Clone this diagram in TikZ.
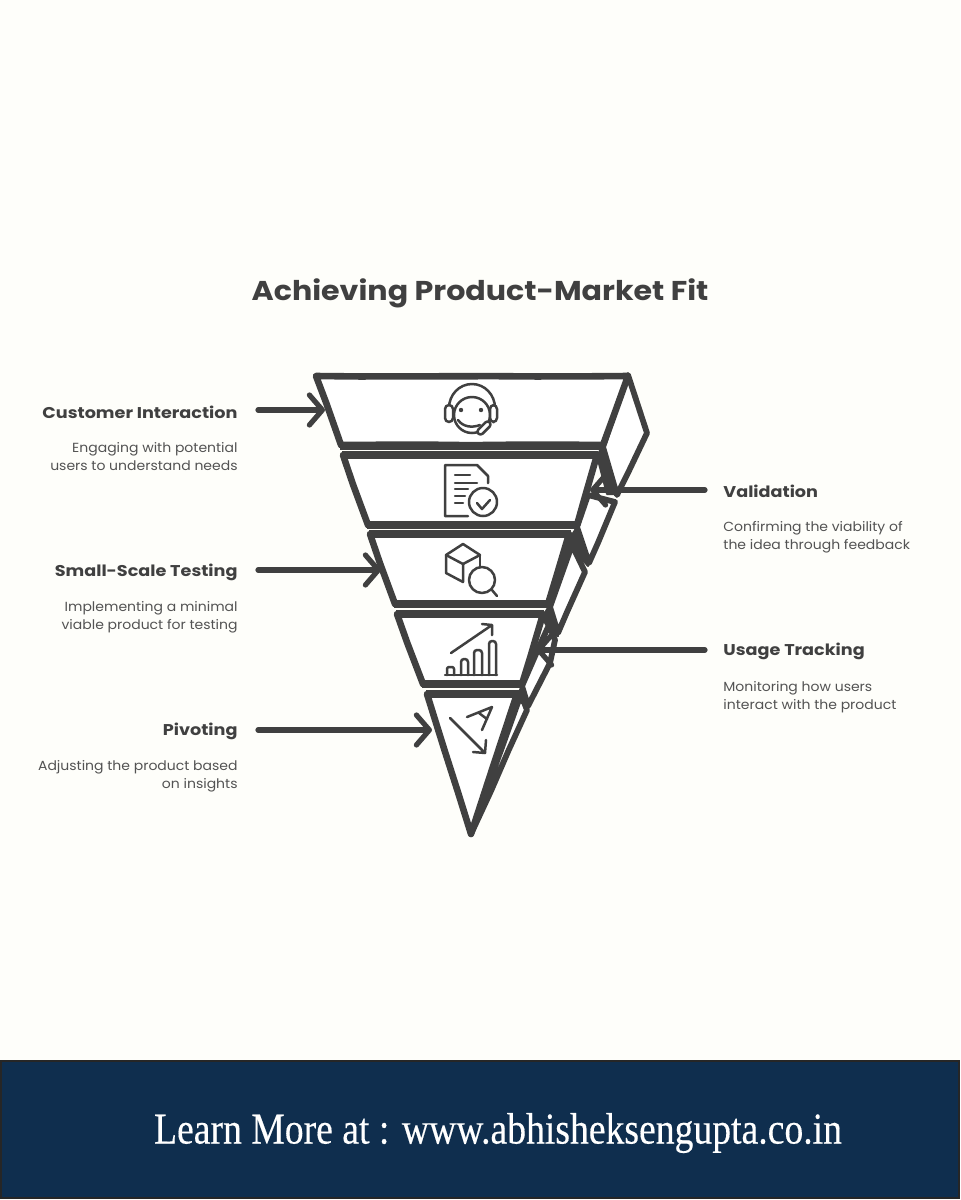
\documentclass[tikz,border=0pt]{standalone}
\usepackage{fontspec}
\usepackage{xcolor}
\usetikzlibrary{arrows.meta,decorations.pathmorphing}
\setmainfont{Poppins}
\newfontfamily\bannerfont[FakeBold=0.35]{Liberation Serif}
\definecolor{paper}{HTML}{FEFEFA}
\definecolor{ink}{HTML}{404040}
\definecolor{navy}{HTML}{0F2E4E}
\tikzset{
  band/.style={draw=ink, fill=white, line width=3.3pt, line join=round,
    decorate, decoration={random steps, segment length=22pt, amplitude=.25pt}},
  sideface/.style={band, line width=2.9pt},
  wedge/.style={fill=ink, draw=ink, line width=1pt, line join=round},
  divider/.style={draw=ink, line width=4pt},
  icon/.style={draw=ink, line width=1.25pt, line cap=round, line join=round},
  pointer/.style={draw=ink, line width=2.6pt, line cap=round,
    -{Straight Barb[length=6.5pt, width=15pt, line width=2.6pt, round]}},
  headline/.style={font=\bfseries\fontsize{7.8}{9}\selectfont, text=ink, inner sep=0pt, xscale=1.13},
  blurb/.style={font=\fontsize{6.6}{9}\selectfont, text=ink!90, inner sep=0pt, xscale=1.06}
}
\begin{document}
\begin{tikzpicture}[x=0.5pt, y=-0.5pt]
    \useasboundingbox (0,0) rectangle (960,1200);
    \fill[paper] (0,0) rectangle (960,1200);

    % Banner
    \draw[fill=navy, draw=black!85, line width=1pt] (1,1061) rectangle (959,1198);
    \node[text=white, inner sep=0pt, xscale=0.856] (banner) at (498,1133)
        {\bannerfont\fontsize{22}{24}\selectfont Learn More at : www.abhisheksengupta.co.in};

    % Title
    \node[font=\bfseries\fontsize{13.6}{18}\selectfont, text=ink, inner sep=0pt, xscale=1.107] (heading) at (480,293)
        {Achieving Product-Market Fit};

    % Side faces
    \draw[sideface] (628,375) -- (647,433) -- (617,495) -- (603,447) -- cycle;
    \draw[sideface] (588,495) -- (615,502) -- (589,563) -- (577,527) -- cycle;
    \draw[sideface] (572,545) -- (585,572) -- (558,633) -- (550,607) -- cycle;
    \draw[sideface] (549,625) -- (555,640) -- (550,663) -- (528,706) -- (522,686) -- cycle;
    \draw[sideface] (521,694) -- (527,710) -- (471,834) -- cycle;

    % Funnel bands
    \draw[band] (316,376) -- (628,376) -- (603,445) -- (341,445) -- cycle;
    \draw[band] (343,455) -- (597,455) -- (577,525) -- (368,525) -- cycle;
    \draw[band] (370,534) -- (569,534) -- (548,604) -- (395,604) -- cycle;
    \draw[band] (397,614) -- (543,614) -- (522,684) -- (423,684) -- cycle;
    \draw[band] (427,694) -- (517,694) -- (471,834) -- cycle;

    % Dividers
    \foreach \ya/\xa/\xb in {445.5/340/605, 455/342/598, 525/367/579, 534/369/571,
                             604/394/550, 614/396/544, 684/422/524, 694/426/519} {
        \draw[divider] (\xa,\ya) -- (\xb,\ya);
    }

    % Dark joints
    \fill[wedge] (603,445) -- (618,494) -- (607,494) -- (597,456) -- cycle;
    \fill[wedge] (577,527) -- (588,566) -- (581,558) -- (570,538) -- cycle;
    \fill[wedge] (549,606) -- (558,636) -- (552,634) -- (542,618) -- cycle;
    \fill[wedge] (522,686) -- (528,706) -- (520,702) -- (517,696) -- cycle;
    \draw[ink, line width=3pt] (570,538) -- (550,603);

    % Free ends on the funnel
    \coordinate (custtip) at (325,410);
    \coordinate (testtip) at (381,570);
    \coordinate (pivottip) at (432,730);
    \coordinate (validtip) at (590,490);
    \coordinate (tracktip) at (536,650);

    % Left labels
    \node[headline, anchor=east] (custhead) at (238,412) {Customer Interaction};
    \node[blurb, anchor=north east, align=right] (custtext) at (238,442)
        {Engaging with potential\\users to understand needs};
    \node[headline, anchor=east] (testhead) at (238,572) {Small-Scale Testing};
    \node[blurb, anchor=north east, align=right] (testtext) at (238,601)
        {Implementing a minimal\\viable product for testing};
    \node[headline, anchor=east] (pivothead) at (238,731) {Pivoting};
    \node[blurb, anchor=north east, align=right] (pivottext) at (238,760)
        {Adjusting the product based\\on insights};

    % Right labels
    \node[headline, anchor=west] (validhead) at (723,491) {Validation};
    \node[blurb, anchor=north west, align=left] (validtext) at (723,521)
        {Confirming the viability of\\the idea through feedback};
    \node[headline, anchor=west] (trackhead) at (723,651) {Usage Tracking};
    \node[blurb, anchor=north west, align=left] (tracktext) at (723,681)
        {Monitoring how users\\interact with the product};

    % Connectors
    \draw[pointer] ([xshift=10pt,yshift=1pt]custhead.east) -- (custtip);
    \draw[pointer] ([xshift=10pt,yshift=1pt]testhead.east) -- (testtip);
    \draw[pointer] ([xshift=10pt,yshift=.5pt]pivothead.east) -- (pivottip);
    \draw[pointer] ([xshift=-9pt,yshift=.5pt]validhead.west) -- (validtip);
    \draw[pointer] ([xshift=-9pt,yshift=.5pt]trackhead.west) -- (tracktip);

    % Headset icon
    \draw[icon] (449,408) arc (180:360:23 and 24);
    \draw[icon] (472,415) circle (18);
    \draw[icon, fill=white, rounded corners=2pt] (445,405) rectangle (453,422);
    \draw[icon, fill=white, rounded corners=2pt] (490,405) rectangle (497,422);
    \fill[ink] (461,410) circle (2.2) (481,410) circle (2.2);
    \draw[icon] (458,420) .. controls (463,427) and (472,428) .. (480,425);
    \draw[icon, fill=white, rounded corners=1.5pt, rotate around={45:(484,428)}] (476,425) rectangle (492,431);

    % Document icon
    \draw[icon] (488,483) -- (488,476) -- (477,465) -- (445,465) -- (445,516) -- (468,516);
    \draw[icon] (455,475) -- (470,475) (455,483) -- (477,483) (455,489) -- (468,489)
        (455,496) -- (465,496) (455,503) -- (463,503);
    \draw[icon, fill=white] (483,502) circle (14);
    \draw[icon] (477,503) -- (482,509) -- (490,500);

    % Cube and magnifier icon
    \draw[icon] (463,544) -- (480,555) -- (463,564) -- (446,555) -- cycle;
    \draw[icon] (446,555) -- (446,573) -- (463,582) -- (463,564);
    \draw[icon] (480,555) -- (480,567);
    \draw[icon, fill=white] (482,580) circle (13);
    \draw[icon] (492,590) -- (497,596);

    % Bar chart icon
    \draw[icon] (445,675) -- (497,675);
    \draw[icon, rounded corners=1pt] (447,675) -- (447,667) -- (454,667) -- (454,675);
    \draw[icon, rounded corners=1.5pt] (461,675) -- (461,659) -- (468,659) -- (468,675);
    \draw[icon, rounded corners=1.5pt] (474,675) -- (474,650) -- (482,650) -- (482,675);
    \draw[icon, rounded corners=1.5pt] (489,675) -- (489,641) -- (496,641) -- (496,675);
    \draw[icon] (451,653) -- (492,625) (482,624) -- (492,625) -- (492,635);

    % Sort arrow icon
    \draw[icon] (450,718) -- (485,753) (486,740) -- (485,753) -- (473,752);
    \draw[icon] (467,717) -- (492,707) -- (482,730) (479,713) -- (487,719);
\end{tikzpicture}
\end{document}
